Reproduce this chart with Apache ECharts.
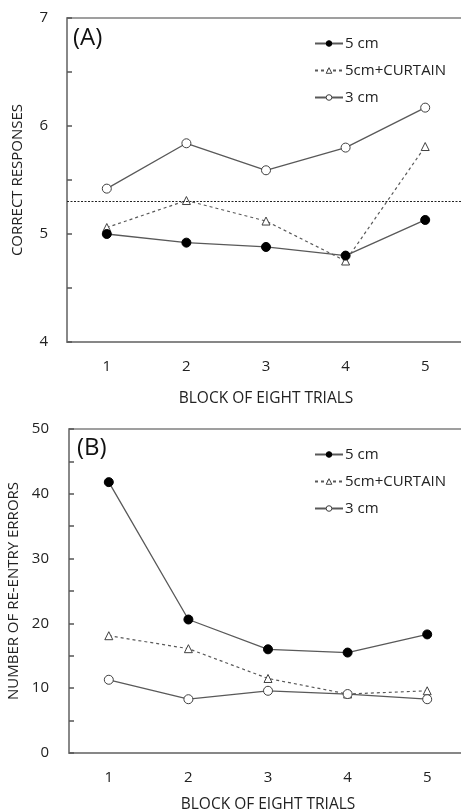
<!DOCTYPE html>
<html>
<head>
<meta charset="utf-8">
<script src="https://cdn.jsdelivr.net/npm/echarts@6/dist/echarts.min.js"></script>
<style>
html,body{margin:0;padding:0;background:#fff;}
#c{width:461px;height:811px;}
</style>
</head>
<body>
<div id="c"></div>
<script>
const blocks = ['1', '2', '3', '4', '5'];
const seriesNames = ['5 cm', '5cm+CURTAIN', '3 cm'];

// Panel A: correct responses
const correct5cm = [5.00, 4.92, 4.88, 4.80, 5.13];
const correctCurtain = [5.06, 5.31, 5.12, 4.75, 5.81];
const correct3cm = [5.42, 5.84, 5.59, 5.80, 6.17];
const chanceLevel = 5.3;
const yTicksA = [4, 5, 6, 7];

// Panel B: re-entry errors
const errors5cm = [41.8, 20.6, 16.0, 15.5, 18.3];
const errorsCurtain = [18.1, 16.1, 11.5, 9.1, 9.6];
const errors3cm = [11.3, 8.3, 9.6, 9.1, 8.3];
const yTicksB = [0, 10, 20, 30, 40, 50];

const FONT = 'Open Sans';
const axisGray = '#808080';
const lineGray = '#595959';
const TXT = '#222';

const styles = {
  filled: { color: '#000', borderColor: '#000', borderWidth: 1 },
  open: { color: '#fff', borderColor: '#404040', borderWidth: 1 }
};

function mkSeries(name, data, idx, kind) {
  const s = {
    name: name, type: 'line', data: data,
    xAxisIndex: idx, yAxisIndex: idx,
    lineStyle: { color: lineGray, width: 1.3, type: 'solid' },
    symbol: 'circle', symbolSize: 9,
    itemStyle: styles.filled,
    emphasis: { disabled: true },
    animation: false,
    z: 3
  };
  if (kind === 'curtain') {
    s.lineStyle = { color: lineGray, width: 1.2, type: [3, 3] };
    s.symbol = 'triangle';
    s.symbolSize = 8;
    s.itemStyle = styles.open;
    s.z = 2;
  } else if (kind === 'open') {
    s.itemStyle = styles.open;
    s.z = 2;
  }
  return s;
}

const chart = echarts.init(document.getElementById('c'), null, { renderer: 'canvas' });

const grids = [
  { left: 67, top: 18, width: 398, height: 324 },
  { left: 69, top: 429, width: 398, height: 324 }
];

function xAxis(idx, gap) {
  return {
    type: 'category', data: blocks, gridIndex: idx, boundaryGap: true,
    axisLine: { show: true, lineStyle: { color: axisGray, width: 1.5 } },
    axisTick: { show: false },
    axisLabel: { color: TXT, fontFamily: FONT, fontSize: 15, margin: 17 },
    name: 'BLOCK OF EIGHT TRIALS', nameLocation: 'middle', nameGap: gap,
    nameTextStyle: { color: TXT, fontFamily: FONT, fontSize: 15.5 },
    splitLine: { show: false }
  };
}

function legendData() {
  return [
    { name: seriesNames[0], itemStyle: styles.filled },
    { name: seriesNames[1], itemStyle: styles.open },
    { name: seriesNames[2], itemStyle: styles.open }
  ];
}

function legend(top) {
  return {
    data: legendData(), orient: 'vertical', left: 309, top: top,
    itemWidth: 28, itemHeight: 7, itemGap: 12,
    textStyle: { color: TXT, fontFamily: FONT, fontSize: 15, padding: [0, 0, 0, -3] },
    selectedMode: false
  };
}

const option = {
  backgroundColor: '#fff',
  animation: false,
  grid: grids.map(g => Object.assign({
    show: true, borderColor: axisGray, borderWidth: 1.5, backgroundColor: 'transparent',
    containLabel: false, outerBoundsMode: 'none'
  }, g)),
  xAxis: [xAxis(0, 49), xAxis(1, 44)],
  yAxis: [
    {
      type: 'value', gridIndex: 0, min: yTicksA[0], max: yTicksA[yTicksA.length - 1], interval: 0.5,
      axisLine: { show: true, lineStyle: { color: axisGray, width: 1.5 } },
      axisTick: { show: true, inside: true, length: 5, lineStyle: { color: '#555', width: 1.5 } },
      axisLabel: { color: TXT, fontFamily: FONT, fontSize: 15, margin: 19,
        formatter: v => (yTicksA.indexOf(v) >= 0 ? String(v) : '') },
      splitLine: { show: false },
      name: 'CORRECT RESPONSES', nameLocation: 'middle', nameGap: 42,
      nameTextStyle: { color: TXT, fontFamily: FONT, fontSize: 15 }
    },
    {
      type: 'value', gridIndex: 1, min: yTicksB[0], max: yTicksB[yTicksB.length - 1], interval: 5,
      axisLine: { show: true, lineStyle: { color: axisGray, width: 1.5 } },
      axisTick: { show: true, inside: true, length: 5, lineStyle: { color: '#555', width: 1.5 } },
      axisLabel: { color: TXT, fontFamily: FONT, fontSize: 15, margin: 20,
        formatter: v => (yTicksB.indexOf(v) >= 0 ? String(v) : '') },
      splitLine: { show: false },
      name: 'NUMBER OF RE-ENTRY ERRORS', nameLocation: 'middle', nameGap: 42,
      nameTextStyle: { color: TXT, fontFamily: FONT, fontSize: 15 }
    }
  ],
  legend: [legend(31), legend(442)],
  graphic: [
    { type: 'text', left: 73, top: 26, style: { text: '(A)', font: '24px "Open Sans"', fill: '#111' } },
    { type: 'text', left: 77, top: 436, style: { text: '(B)', font: '24px "Open Sans"', fill: '#111' } }
  ],
  series: [
    Object.assign(mkSeries(seriesNames[1], correctCurtain, 0, 'curtain'), {
      markLine: {
        silent: true, symbol: ['none', 'none'], animation: false,
        label: { show: false },
        lineStyle: { color: '#222', width: 1, type: [2, 1.5] },
        data: [{ yAxis: chanceLevel }]
      }
    }),
    mkSeries(seriesNames[2], correct3cm, 0, 'open'),
    mkSeries(seriesNames[0], correct5cm, 0, 'filled'),
    mkSeries(seriesNames[1], errorsCurtain, 1, 'curtain'),
    mkSeries(seriesNames[2], errors3cm, 1, 'open'),
    mkSeries(seriesNames[0], errors5cm, 1, 'filled')
  ]
};
chart.setOption(option);
</script>
</body>
</html>
